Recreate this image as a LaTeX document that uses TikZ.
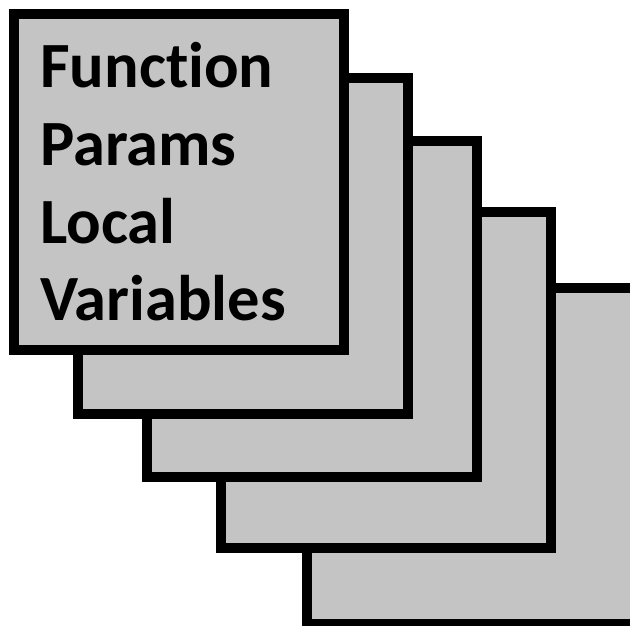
\documentclass[tikz,border=0pt]{standalone}
\usepackage{fontspec}
\setmainfont{Carlito}[Ligatures=NoCommon]
\definecolor{cardgray}{RGB}{196,196,196}
\begin{document}
\begin{tikzpicture}[x=1pt,y=-1pt,
  card/.style={draw=black, fill=cardgray, line width=10pt, line join=miter,
    minimum width=330pt, minimum height=336pt, inner sep=0pt, outer sep=0pt},
  label/.style={anchor=base west, inner sep=0pt, font=\fontsize{64.5}{74}\selectfont\bfseries}]
\clip (0,0) rectangle (630,625);
\useasboundingbox (0,0) rectangle (630,625);
\node[card] (c5) at (472,456) {};
\node[card] (c4) at (385.5,380) {};
\node[card] (c3) at (311.5,308.5) {};
\node[card] (c2) at (243,246) {};
\node[card] (c1) at (179,182) {};
\node[label] (t1) at (40,87) {Function};
\node[label] (t2) at (40,165) {Params};
\node[label] (t3) at (40,243) {Local};
\node[label] (t4) at (40,320) {Variables};
\end{tikzpicture}
\end{document}
